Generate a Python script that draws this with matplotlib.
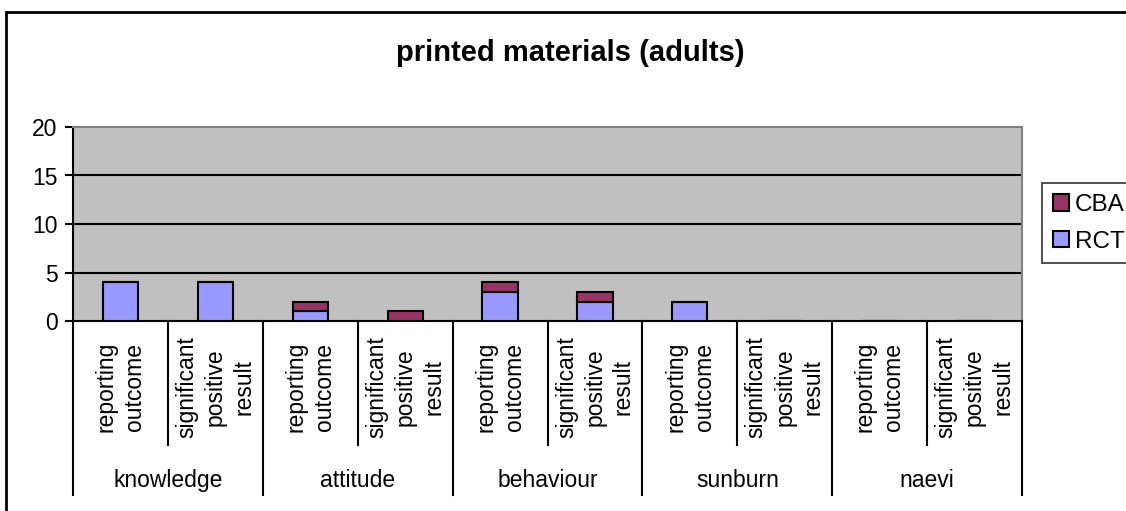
import matplotlib.pyplot as plt
from matplotlib.patches import Patch, Rectangle
from matplotlib.transforms import blended_transform_factory

plt.rcParams["font.family"] = ["Liberation Sans", "DejaVu Sans"]

# data
groups = ["knowledge", "attitude", "behaviour", "sunburn", "naevi"]
subcats = ["reporting\noutcome", "significant\npositive\nresult"]
rct = [4, 4, 1, 0, 3, 2, 2, 0, 0, 0]
cba = [0, 0, 1, 1, 1, 1, 0, 0, 0, 0]

rct_color = "#9999FF"
cba_color = "#993366"
fs = 16.5

fig = plt.figure(figsize=(11.26, 5.11), dpi=100)
ax = fig.add_axes([73 / 1126, 1 - 321 / 511, (1022 - 73) / 1126, (321 - 127) / 511])
ax.set_facecolor("#C0C0C0")

x = list(range(len(rct)))
ax.bar(x, rct, width=0.37, color=rct_color, edgecolor="black", linewidth=1.5, zorder=3)
ax.bar(x, cba, width=0.37, bottom=rct, color=cba_color, edgecolor="black", linewidth=1.5, zorder=3)

ax.set_xlim(-0.5, 9.5)
ax.set_ylim(0, 20)
ax.set_yticks([0, 5, 10, 15, 20])
ax.tick_params(axis="y", direction="out", length=6, width=1.5, labelsize=fs, pad=5)
ax.set_xticks([])
for v in [5, 10, 15]:
    ax.axhline(v, color="black", linewidth=1.5, zorder=1)

ax.spines["left"].set_linewidth(1.5)
ax.spines["bottom"].set_linewidth(1.5)
ax.spines["top"].set_color("#808080")
ax.spines["right"].set_color("#808080")
ax.spines["top"].set_linewidth(1.5)
ax.spines["right"].set_linewidth(1.5)

# category axis separators and labels
tr = blended_transform_factory(ax.transData, ax.transAxes)
for i in range(len(groups)):
    left = 2 * i - 0.5
    ax.plot([left, left], [0, -0.897], transform=tr, color="black", lw=1.5, clip_on=False)
    ax.plot([left + 1, left + 1], [0, -0.639], transform=tr, color="black", lw=1.5, clip_on=False)
    for j, lab in enumerate(subcats):
        ax.text(2 * i + j, -0.34, lab, transform=tr, rotation=90, ha="center", va="center",
                multialignment="center", fontsize=fs, linespacing=1.3)
    ax.text(2 * i + 0.5, -0.82, groups[i], transform=tr, ha="center", va="center", fontsize=fs)
ax.plot([9.5, 9.5], [0, -0.897], transform=tr, color="black", lw=1.5, clip_on=False)

fig.text(570 / 1126, 1 - 53 / 511, "printed materials (adults)", ha="center", va="center",
         fontsize=21, fontweight="bold")

handles = [Patch(facecolor=cba_color, edgecolor="black", linewidth=1.5),
           Patch(facecolor=rct_color, edgecolor="black", linewidth=1.5)]
leg = fig.legend(handles, ["CBA", "RCT"], loc="upper left",
                 bbox_to_anchor=(1042 / 1126, 1 - 183 / 511), fontsize=17.5,
                 frameon=True, fancybox=False, handlelength=0.65, handleheight=0.65,
                 handletextpad=0.25, borderpad=0.45, labelspacing=0.6, borderaxespad=0)
leg.get_frame().set_edgecolor("black")
leg.get_frame().set_linewidth(1.2)

fig.patches.append(Rectangle((6 / 1126, -0.2), 1.2, 1.2 - 12 / 511, transform=fig.transFigure,
                             fill=False, edgecolor="black", linewidth=2))

fig.savefig("out.png", dpi=100)
